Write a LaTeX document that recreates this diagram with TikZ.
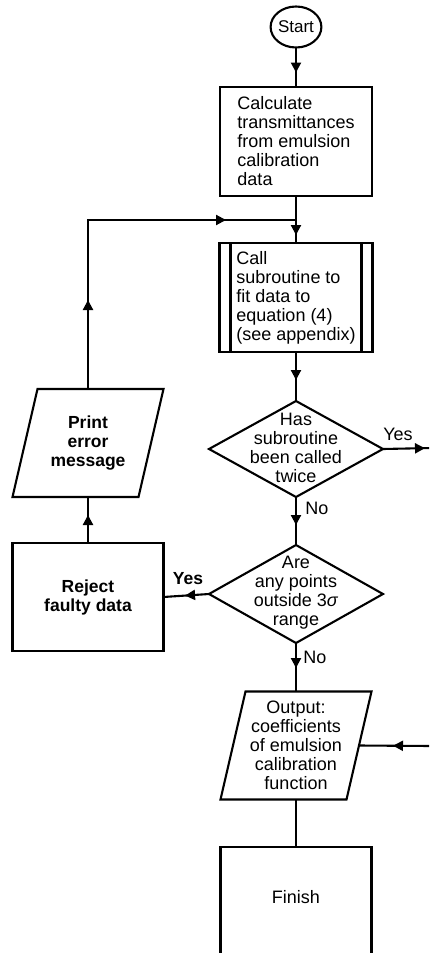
\documentclass[tikz,border=0pt]{standalone}
\usepackage{fontspec}
\setmainfont{Liberation Sans}
\usetikzlibrary{arrows.meta,decorations.markings,shapes.geometric}

\tikzset{
  x=1pt, y=-1pt,
  every node/.style={font=\fontsize{18}{19}\selectfont, inner sep=0pt, outer sep=0pt},
  bold/.style={font=\fontsize{17.5}{19}\selectfont\bfseries},
  line/.style={line width=2.1pt},
  terminal/.style={ellipse, draw, line width=2.1pt, minimum width=45pt, minimum height=41pt,
    font=\fontsize{17}{19}\selectfont},
  procbox/.style={rectangle, draw, line width=2.1pt},
  iobox/.style={rectangle, minimum width=151pt, minimum height=108pt},
  decision/.style={diamond, draw, line width=2.1pt, inner sep=0pt},
  flowtip/.tip={Triangle[length=10pt,width=10pt]},
  arr/.style={line, postaction={decorate},
    decoration={markings, mark=at position #1 with {\arrow{flowtip}}}},
}

\begin{document}
\begin{tikzpicture}
\useasboundingbox (0,0) rectangle (429,953);
\clip (0,0) rectangle (429,953);

% main column
\node[terminal] (start) at (296,27) {Start};
\node[procbox, minimum width=152pt, minimum height=109pt, align=left] (calc) at (296,141.5)
  {Calculate\\transmittances\\from emulsion\\calibration\\data};
\node[procbox, minimum width=153pt, minimum height=109pt, align=left] (sub) at (296,297.5)
  {Call\\subroutine to\\fit data to\\equation (4)\\(see appendix)};
\draw[line] ([xshift=11pt]sub.north west) -- ([xshift=11pt]sub.south west);
\draw[line] ([xshift=-11pt]sub.north east) -- ([xshift=-11pt]sub.south east);

\node[decision, minimum width=174pt, minimum height=96pt] (d1) at (296,449) {};
\node[align=center] (d1text) at (296,448) {Has\\subroutine\\been called\\twice};

\node[decision, minimum width=174pt, minimum height=98pt] (d2) at (296,594) {};
\node[align=center] (d2text) at (296,593) {Are\\any points\\outside 3\textit{σ}\\range};

\node[iobox, align=center] (out) at (296,745.5)
  {Output:\\coefficients\\of emulsion\\calibration\\function};
\draw[line] ([xshift=25pt]out.north west) -- (out.north east)
  -- ([xshift=-25pt]out.south east) -- (out.south west) -- cycle;

\node[procbox, minimum width=151pt, minimum height=130pt] (fin) at (296,912) {};
\node (fintext) at (296,897) {Finish};

% left column
\node[iobox, bold, align=center] (print) at (88,443) {Print\\error\\message};
\draw[line] ([xshift=25pt]print.north west) -- (print.north east)
  -- ([xshift=-25pt]print.south east) -- (print.south west) -- cycle;
\node[procbox, bold, align=center, minimum width=151pt, minimum height=108pt] (reject) at (88,597)
  {Reject\\faulty data};

% free ends and junction
\coordinate (join) at (296,220);
\coordinate (yesR) at (432,448);
\coordinate (outR) at (432,746);

% connectors
\draw[arr=25pt] (start.south) -- (calc.north);
\draw[arr=39pt] (calc.south) -- (sub.north);
\draw[line, postaction={decorate}, decoration={markings,
    mark=at position 89pt with {\arrow{flowtip}},
    mark=at position 307pt with {\arrow{flowtip}}}]
  (print.north) |- (join);
\draw[arr=28pt] (reject.north) -- (print.south);
\draw[arr=28pt] (sub.south) -- (d1.north);
\draw[arr=42pt] (d1.east) -- (yesR);
\draw[arr=28pt] (d1.south) -- (d2.north);
\draw[arr=24pt] (d2.west) -- (reject.east);
\draw[arr=25pt] (d2.south) -- (out.north);
\draw[arr=39pt] (outR) -- ([xshift=-12.5pt]out.east);
\draw[line] (out.south) -- (fin.north);

% branch labels
\node (yes1) at (398,434) {Yes};
\node (no1) at (317,508) {No};
\node[bold] (yes2) at (188,579) {Yes};
\node (no2) at (315,657) {No};
\end{tikzpicture}
\end{document}
